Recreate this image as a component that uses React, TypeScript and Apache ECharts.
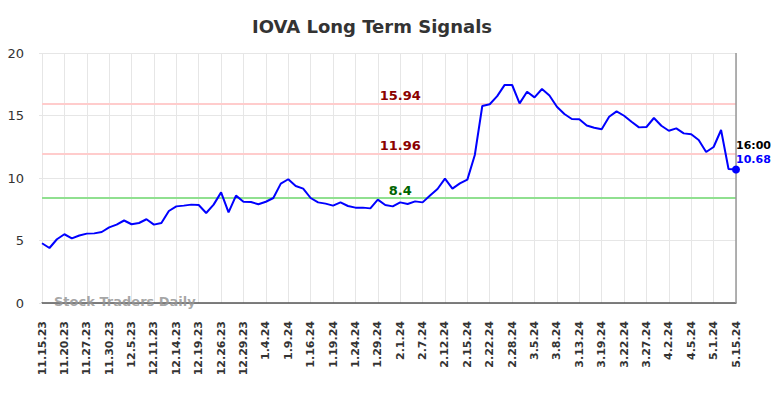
import React, { useEffect, useRef } from "react";
import * as echarts from "echarts";

const categories: string[] = [
  "11.15.23", "11.16.23", "11.17.23",
  "11.20.23", "11.22.23", "11.24.23",
  "11.27.23", "11.28.23", "11.29.23",
  "11.30.23", "12.1.23", "12.4.23",
  "12.5.23", "12.6.23", "12.8.23",
  "12.11.23", "12.12.23", "12.13.23",
  "12.14.23", "12.15.23", "12.18.23",
  "12.19.23", "12.20.23", "12.21.23",
  "12.26.23", "12.27.23", "12.28.23",
  "12.29.23", "1.2.24", "1.3.24",
  "1.4.24", "1.5.24", "1.8.24",
  "1.9.24", "1.11.24", "1.12.24",
  "1.16.24", "1.17.24", "1.18.24",
  "1.19.24", "1.22.24", "1.23.24",
  "1.24.24", "1.25.24", "1.26.24",
  "1.29.24", "1.30.24", "1.31.24",
  "2.1.24", "2.2.24", "2.6.24",
  "2.7.24", "2.8.24", "2.9.24",
  "2.12.24", "2.13.24", "2.14.24",
  "2.15.24", "2.16.24", "2.21.24",
  "2.22.24", "2.23.24", "2.27.24",
  "2.28.24", "2.29.24", "3.1.24",
  "3.5.24", "3.6.24", "3.7.24",
  "3.8.24", "3.11.24", "3.12.24",
  "3.13.24", "3.14.24", "3.18.24",
  "3.19.24", "3.20.24", "3.21.24",
  "3.22.24", "3.25.24", "3.26.24",
  "3.27.24", "3.28.24", "4.1.24",
  "4.2.24", "4.3.24", "4.4.24",
  "4.5.24", "4.12.24", "4.22.24",
  "5.1.24", "5.8.24", "5.13.24",
  "5.15.24",
];

const prices: number[] = [
  4.78, 4.4, 5.1, 5.5, 5.17, 5.4, 5.55, 5.57, 5.68, 6.05,
  6.27, 6.6, 6.3, 6.4, 6.7, 6.27, 6.4, 7.36, 7.73, 7.79,
  7.87, 7.84, 7.2, 7.87, 8.85, 7.25, 8.59, 8.1, 8.08, 7.9,
  8.1, 8.4, 9.55, 9.9, 9.36, 9.15, 8.4, 8.05, 7.95, 7.79,
  8.05, 7.76, 7.63, 7.63, 7.57, 8.27, 7.84, 7.73, 8.05, 7.92,
  8.13, 8.05, 8.6, 9.12, 9.95, 9.15, 9.57, 9.87, 11.84, 15.76,
  15.9, 16.55, 17.45, 17.44, 15.97, 16.9, 16.45, 17.12, 16.6, 15.7,
  15.12, 14.72, 14.7, 14.2, 14.02, 13.9, 14.9, 15.33, 14.98, 14.5,
  14.05, 14.08, 14.8, 14.18, 13.78, 13.97, 13.57, 13.5, 13.04, 12.08,
  12.48, 13.84, 10.72, 10.68,
];

const resistanceHigh = 15.94;
const resistanceLow = 11.96;
const support = 8.4;
const lastTime = "16:00";
const yTicks = { min: 0, max: 20, interval: 5 };
const titleText = "IOVA Long Term Signals";
const watermark = "Stock Traders Daily";

export default function App() {
  const ref = useRef<HTMLDivElement>(null);

  useEffect(() => {
    if (!ref.current) return;
    const chart = echarts.init(ref.current, undefined, { renderer: "svg" });
    const lastIdx = prices.length - 1;
    const labelIdx = 48;
    const font = "DejaVu Sans";

    const levelPoint = (v: number, color: string) => ({
      coord: [labelIdx, v],
      value: String(v),
      symbol: "rect",
      symbolSize: 1,
      itemStyle: { color: "rgba(0,0,0,0)" },
      label: {
        show: true,
        position: "top",
        distance: 1,
        formatter: String(v),
        color,
        fontSize: 13,
        fontWeight: "bold",
        fontFamily: font,
      },
    });

    chart.setOption({
      animation: false,
      backgroundColor: "#ffffff",
      title: {
        text: titleText,
        left: 252,
        top: 17,
        padding: 0,
        textStyle: { fontSize: 18, fontWeight: "bold", color: "#333333", fontFamily: font },
      },
      grid: { left: 42, right: 48, top: 53, bottom: 95, containLabel: false },
      xAxis: {
        type: "category",
        data: categories,
        boundaryGap: false,
        axisLine: { show: true, lineStyle: { color: "#555555", width: 1.5 } },
        axisTick: { show: false },
        axisLabel: {
          interval: 2,
          rotate: 90,
          margin: 18,
          fontSize: 11,
          fontWeight: "bold",
          color: "#333333",
          fontFamily: font,
        },
        splitLine: { show: true, interval: 2, lineStyle: { color: "#e6e6e6", width: 1 } },
      },
      yAxis: {
        type: "value",
        min: yTicks.min,
        max: yTicks.max,
        interval: yTicks.interval,
        axisLine: { show: false },
        axisTick: { show: true, length: 3, lineStyle: { color: "#e6e6e6" } },
        axisLabel: { margin: 18, fontSize: 13, color: "#333333", fontFamily: font },
        splitLine: { show: true, lineStyle: { color: "#e6e6e6", width: 1 } },
      },
      graphic: [
        {
          type: "text",
          left: 54,
          top: 295,
          z: 100,
          style: {
            text: watermark,
            fontSize: 13,
            fontWeight: "bold",
            fill: "rgba(150,150,150,0.85)",
            fontFamily: font,
          },
        },
      ],
      series: [
        {
          type: "line",
          data: prices,
          symbol: "none",
          lineStyle: { color: "#0000ff", width: 2 },
          itemStyle: { color: "#0000ff" },
          z: 5,
          markLine: {
            silent: true,
            symbol: ["none", "none"],
            label: { show: false },
            data: [
              { yAxis: resistanceHigh, lineStyle: { color: "#ffcccc", width: 2, type: "solid" } },
              { yAxis: resistanceLow, lineStyle: { color: "#ffcccc", width: 2, type: "solid" } },
              { yAxis: support, lineStyle: { color: "#90e090", width: 2, type: "solid" } },
              { xAxis: lastIdx, lineStyle: { color: "#999999", width: 1.5, type: "solid" } },
            ],
          },
          markPoint: {
            silent: true,
            data: [
              levelPoint(resistanceHigh, "#8b0000"),
              levelPoint(resistanceLow, "#8b0000"),
              levelPoint(support, "#006400"),
              {
                coord: [lastIdx, prices[lastIdx]],
                symbol: "circle",
                symbolSize: 8,
                itemStyle: { color: "#0000ff" },
                label: {
                  show: true,
                  position: [4, -27],
                  align: "left",
                  verticalAlign: "top",
                  formatter: `{t|${lastTime}}\n{v|${prices[lastIdx]}}`,
                  rich: {
                    t: { fontSize: 11, fontWeight: "bold", color: "#000000", fontFamily: font, lineHeight: 14 },
                    v: { fontSize: 11, fontWeight: "bold", color: "#0000ff", fontFamily: font, lineHeight: 14 },
                  },
                },
              },
            ],
          },
        },
      ],
    });

    return () => chart.dispose();
  }, []);

  return <div ref={ref} style={{ position: "absolute", left: 0, top: 0, width: 784, height: 398 }} />;
}
